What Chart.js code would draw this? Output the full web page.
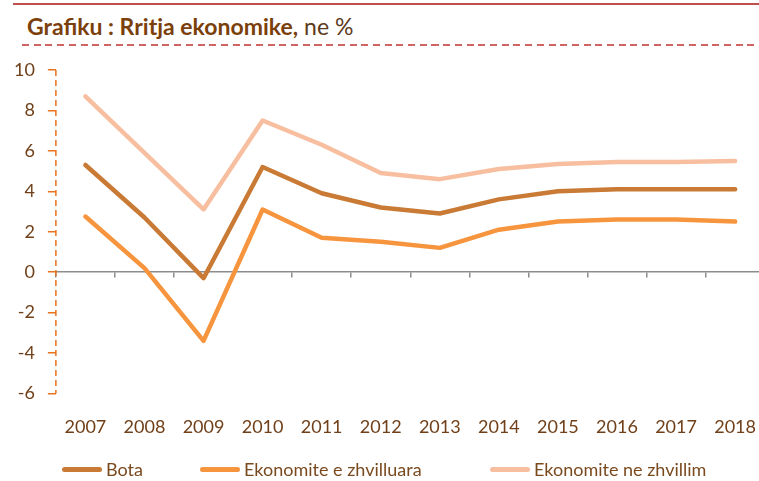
<!DOCTYPE html>
<html lang="sq">
<head>
  <meta charset="UTF-8" />
  <title>Rritja ekonomike</title>
  <script src="https://cdn.jsdelivr.net/npm/chart.js"></script>
  <style>
    html, body { margin: 0; padding: 0; background: #fff; overflow: hidden; }
    body { width: 759px; height: 481px; position: relative; font-family: Lato, "Open Sans", sans-serif; }
    .topline { position: absolute; left: 13px; right: 0; top: 3px; height: 2px; background: #c0504d; }
    .title { position: absolute; left: 27px; top: 12px; font-size: 23px; line-height: 28px; color: #7b3f0b; white-space: nowrap; }
    .title b { font-weight: 700; }
    .title span { color: #5c3a1c; }
    .dashline { position: absolute; left: 22px; right: 0; top: 44px; height: 2px;
      background: repeating-linear-gradient(to right, #d06464 0 7px, transparent 7px 11.7px); }
    #growth { position: absolute; left: 0; top: 0; }
    #legend { position: absolute; left: 0; top: 458px; width: 759px; height: 24px; }
    .item { position: absolute; top: 0; display: flex; align-items: center; font-size: 18px; color: #7a4a1f; }
    .item i { display: inline-block; width: 40px; height: 5px; border-radius: 3px; margin-right: 4px; }
  </style>
</head>
<body>
  <div class="topline"></div>
  <div class="title"><b>Grafiku : Rritja ekonomike,</b> <span>ne %</span></div>
  <div class="dashline"></div>

  <canvas id="growth" width="771" height="481"></canvas>
  <div id="legend"></div>

  <script>
    const years = ['2007', '2008', '2009', '2010', '2011', '2012', '2013', '2014', '2015', '2016', '2017', '2018'];
    const bota = [5.3, 2.7, -0.3, 5.2, 3.9, 3.2, 2.9, 3.6, 4.0, 4.1, 4.1, 4.1];
    const zhvilluara = [2.75, 0.2, -3.4, 3.1, 1.7, 1.5, 1.2, 2.1, 2.5, 2.6, 2.6, 2.5];
    const neZhvillim = [8.7, 5.9, 3.1, 7.5, 6.3, 4.9, 4.6, 5.1, 5.35, 5.45, 5.45, 5.5];
    const yTicks = { min: -6, max: 10, step: 2 };

    const brown = '#70401a';
    const axisOrange = '#e8731c';

    // the y axis line is dashed in the original; chart.js only dashes grid lines
    const dashedYAxis = {
      id: 'dashedYAxis',
      afterDraw(chart) {
        const { ctx, chartArea } = chart;
        ctx.save();
        ctx.strokeStyle = axisOrange;
        ctx.lineWidth = 1.5;
        ctx.setLineDash([6, 4]);
        ctx.beginPath();
        ctx.moveTo(chartArea.left, chartArea.top);
        ctx.lineTo(chartArea.left, chartArea.bottom);
        ctx.stroke();
        ctx.restore();
      }
    };

    const ctx = document.getElementById('growth').getContext('2d');
    const chart = new Chart(ctx, {
      type: 'line',
      data: {
        labels: years,
        datasets: [
          { label: 'Bota', data: bota, borderColor: '#c97a35', backgroundColor: '#c97a35' },
          { label: 'Ekonomite e zhvilluara', data: zhvilluara, borderColor: '#f7953f', backgroundColor: '#f7953f' },
          { label: 'Ekonomite ne zhvillim', data: neZhvillim, borderColor: '#f7bfa0', backgroundColor: '#f7bfa0' }
        ]
      },
      options: {
        responsive: false,
        animation: false,
        elements: {
          line: { borderWidth: 4.5, tension: 0, borderCapStyle: 'round', borderJoinStyle: 'round' },
          point: { radius: 0 }
        },
        layout: { padding: { top: 70, left: 1, right: 0, bottom: 28 } },
        plugins: {
          legend: { display: false },
          tooltip: { enabled: false }
        },
        scales: {
          x: {
            offset: true,
            grid: { display: false },
            border: { display: false },
            ticks: { color: brown, font: { family: 'Lato', size: 18 }, padding: 15, maxRotation: 0, autoSkip: false }
          },
          xZero: {
            type: 'category',
            axis: 'x',
            labels: years,
            position: { y: 0 },
            offset: true,
            grid: { offset: true, drawOnChartArea: false, drawTicks: true, tickLength: 5, color: '#8c8c8c', lineWidth: 1.5 },
            border: { color: '#8c8c8c', width: 1.5 },
            ticks: { display: false }
          },
          y: {
            min: yTicks.min,
            max: yTicks.max,
            ticks: { stepSize: yTicks.step, color: brown, font: { family: 'Lato', size: 18 }, padding: 13 },
            grid: { drawOnChartArea: false, drawTicks: true, tickLength: 8, color: axisOrange, lineWidth: 1.5 },
            border: { display: false }
          }
        }
      },
      plugins: [dashedYAxis]
    });

    // legend in html so the spacing can follow the original
    const legendX = [62, 200, 490];
    const legend = document.getElementById('legend');
    chart.data.datasets.forEach((ds, i) => {
      const el = document.createElement('div');
      el.className = 'item';
      el.style.left = legendX[i] + 'px';
      el.innerHTML = '<i style="background:' + ds.borderColor + '"></i>' + ds.label;
      legend.appendChild(el);
    });
  </script>
</body>
</html>
